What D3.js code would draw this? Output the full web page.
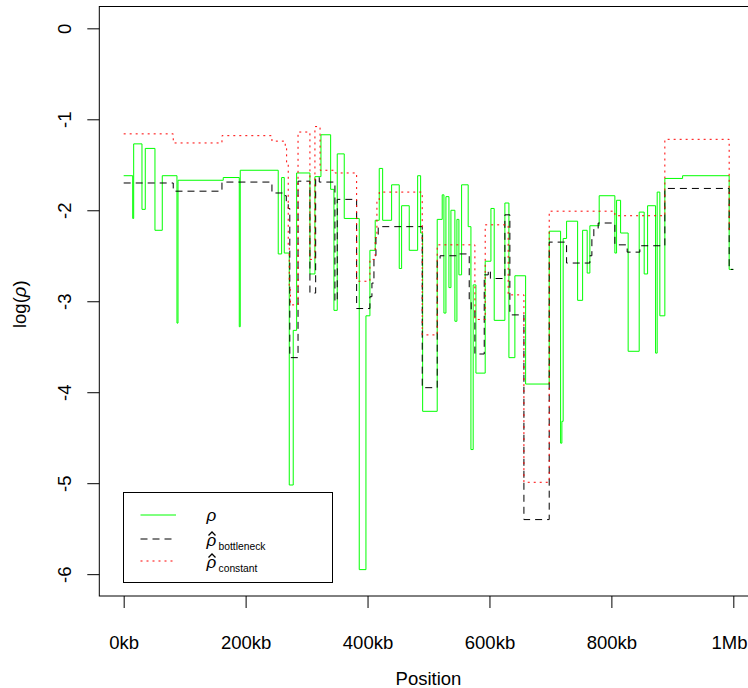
<!DOCTYPE html>
<html>
<head>
<meta charset="utf-8">
<script src="https://cdn.jsdelivr.net/npm/d3@7"></script>
<style>
body { margin: 0; background: #fff; }
text { font-family: "Liberation Sans", Arial, sans-serif; fill: #000; }
</style>
</head>
<body>
<svg id="chart" width="748" height="688"></svg>
<script>
// Step functions: position in kb, log(rho) value holds until the next position
const seqEnd = 1000;

const rhoPos = [0, 14.8, 16.4, 30.0, 35.4, 51.3, 63.3, 87.4, 89.1, 163.3, 189.6, 191.2,
  253.5, 259.1, 263.4, 271.6, 278.1, 283.7, 305.5, 313.7, 323.6, 339.5, 344.9, 350.3,
  361.8, 386.4, 397.4, 403.9, 412.6, 419.2, 424.8, 439.5, 452.0, 455.9, 468.4, 482.2,
  487.1, 490.4, 514.3, 522.5, 525.3, 528.6, 533.5, 536.8, 543.3, 546.6, 549.9, 554.3,
  565.1, 569.6, 573.3, 577.8, 593.0, 602.4, 607.8, 625.3, 631.9, 641.7, 659.3, 698.0,
  716.7, 718.8, 720.9, 726.5, 744.6, 752.8, 760.3, 764.7, 780.0, 805.7, 808.5, 815.1,
  827.5, 845.6, 853.8, 859.4, 872.5, 875.1, 879.5, 887.7, 916.8, 993.2];
const rhoVal = [-1.62, -2.09, -1.27, -1.99, -1.32, -2.22, -1.62, -3.24, -1.67, -1.64, -3.28, -1.56,
  -2.48, -1.64, -2.47, -5.02, -3.32, -1.59, -2.70, -1.63, -1.17, -1.77, -3.10, -1.38,
  -2.09, -5.95, -3.16, -2.44, -2.11, -1.54, -2.11, -1.72, -2.64, -1.95, -2.44, -1.62,
  -2.25, -4.21, -2.10, -1.83, -3.13, -1.85, -2.85, -2.00, -3.22, -2.10, -2.71, -1.72,
  -2.18, -4.63, -2.82, -3.79, -2.56, -1.98, -3.21, -1.92, -3.62, -2.72, -3.91, -2.23,
  -4.56, -4.32, -2.31, -2.12, -2.99, -2.22, -2.69, -2.17, -1.84, -2.47, -1.89, -2.25,
  -3.55, -2.02, -2.70, -1.95, -3.57, -1.80, -3.16, -1.65, -1.62, -2.65];

const bottleneckPos = [0, 81.3, 161.2, 243.2, 263.4, 266.7, 269.9, 272.5, 286.0, 305.5, 314.9, 320.8,
  346.5, 350.3, 382.1, 403.9, 407.2, 410.5, 413.8, 417.5, 489.7, 514.3, 519.0, 546.1,
  566.8, 570.0, 576.1, 591.4, 598.0, 601.5, 625.3, 633.5, 656.5, 698.0, 726.5, 764.7,
  768.0, 771.2, 778.3, 805.7, 825.9, 846.7, 887.7, 993.2];
const bottleneckVal = [-1.70, -1.79, -1.69, -1.81, -1.84, -1.90, -1.98, -3.62, -1.68, -2.91, -1.64, -1.69,
  -3.00, -1.88, -3.08, -2.95, -2.80, -2.50, -2.30, -2.18, -3.95, -2.55, -2.50, -2.48,
  -3.00, -3.10, -3.58, -2.71, -2.66, -2.75, -2.05, -3.15, -5.40, -2.35, -2.58, -2.50,
  -2.30, -2.20, -2.14, -2.38, -2.46, -2.39, -1.76, -2.65];

const constantPos = [0, 81.3, 161.2, 243.2, 265.0, 267.3, 269.9, 271.6, 273.5, 286.0, 305.5, 313.7,
  322.1, 346.5, 382.1, 403.9, 412.6, 415.4, 419.2, 489.7, 514.3, 576.1, 593.0, 630.7,
  656.5, 698.0, 805.7, 887.7, 993.2];
const constantVal = [-1.16, -1.26, -1.18, -1.24, -1.30, -1.50, -2.40, -2.87, -3.04, -1.14, -2.54, -1.08,
  -1.56, -1.59, -2.78, -2.54, -2.30, -1.90, -1.80, -3.37, -2.38, -3.20, -2.16, -2.93,
  -4.99, -2.01, -2.06, -1.22, -2.21];

const xTicks = [0, 200, 400, 600, 800, 1000];
const xTickLabels = ["0kb", "200kb", "400kb", "600kb", "800kb", "1Mb"];
const yTicks = [0, -1, -2, -3, -4, -5, -6];

const svg = d3.select("#chart");
const fs = 18.5;

// R-style 4% padding around xlim c(0,1Mb) and ylim c(-6,0)
const x = d3.scaleLinear().domain([-40, 1040]).range([99.3, 757.7]);
const y = d3.scaleLinear().domain([-6.24, 0.24]).range([596, 6.5]);

function steps(pos, val) {
  const pts = pos.map((p, i) => [p, val[i]]);
  pts.push([seqEnd, val[val.length - 1]]);
  return pts;
}

const line = d3.line()
  .x(d => x(d[0]))
  .y(d => y(d[1]))
  .curve(d3.curveStepAfter);

// series
svg.append("path")
  .attr("d", line(steps(rhoPos, rhoVal)))
  .attr("fill", "none")
  .attr("stroke", "#00ff00")
  .attr("stroke-width", 1);

svg.append("path")
  .attr("d", line(steps(bottleneckPos, bottleneckVal)))
  .attr("fill", "none")
  .attr("stroke", "#000")
  .attr("stroke-width", 1)
  .attr("stroke-dasharray", "7,5");

svg.append("path")
  .attr("d", line(steps(constantPos, constantVal)))
  .attr("fill", "none")
  .attr("stroke", "#ff0000")
  .attr("stroke-width", 1)
  .attr("stroke-dasharray", "2,4");

// box
svg.append("rect")
  .attr("x", x.range()[0]).attr("y", y.range()[1])
  .attr("width", x.range()[1] - x.range()[0])
  .attr("height", y.range()[0] - y.range()[1])
  .attr("fill", "none").attr("stroke", "#000").attr("stroke-width", 1);

// x axis
const xAxis = svg.append("g")
  .attr("transform", `translate(0,${y.range()[0]})`)
  .call(d3.axisBottom(x).tickValues(xTicks)
    .tickFormat((d, i) => xTickLabels[i])
    .tickSize(12).tickPadding(27.5));
xAxis.select(".domain").remove();
xAxis.selectAll("text").attr("font-size", fs).attr("font-family", null);
// last label sits right at the page edge, keep it inside
xAxis.selectAll("text").filter(d => d === 1000)
  .attr("text-anchor", "end").attr("x", 747 - x(1000));

// y axis, labels rotated like R's las=0
const yAxis = svg.append("g")
  .attr("transform", `translate(${x.range()[0]},0)`)
  .call(d3.axisLeft(y).tickValues(yTicks).tickSize(12).tickFormat(""));
yAxis.select(".domain").remove();
yAxis.selectAll(".tick").append("text")
  .attr("transform", "translate(-28,0) rotate(-90)")
  .attr("text-anchor", "middle")
  .attr("font-size", fs)
  .attr("fill", "#000")
  .text(d => d === 0 ? "0" : "-" + Math.abs(d));

// axis titles
svg.append("text")
  .attr("x", (x.range()[0] + x.range()[1]) / 2)
  .attr("y", 684.5)
  .attr("text-anchor", "middle")
  .attr("font-size", fs)
  .text("Position");

const yl = svg.append("text")
  .attr("transform", `translate(26,${(y.range()[0] + y.range()[1]) / 2 + 3}) rotate(-90)`)
  .attr("text-anchor", "middle")
  .attr("font-size", fs);
yl.append("tspan").text("log(");
yl.append("tspan").attr("font-style", "italic").text("ρ");
yl.append("tspan").text(")");

// legend
const legend = svg.append("g");
legend.append("rect")
  .attr("x", 123.5).attr("y", 492.5).attr("width", 209).attr("height", 90)
  .attr("fill", "#fff").attr("stroke", "#000").attr("stroke-width", 1);

const legendRows = [
  { color: "#00ff00", dash: null, ly: 515, base: 520.5, sub: null },
  { color: "#000", dash: "7,5", ly: 539, base: 546, sub: "bottleneck" },
  { color: "#ff0000", dash: "2,4", ly: 561, base: 568, sub: "constant" }
];
legendRows.forEach(r => {
  legend.append("line")
    .attr("x1", 140.5).attr("x2", 176).attr("y1", r.ly).attr("y2", r.ly)
    .attr("stroke", r.color).attr("stroke-width", 1)
    .attr("stroke-dasharray", r.dash);
  legend.append("text")
    .attr("x", 206.5).attr("y", r.base)
    .attr("font-size", 17).attr("font-style", "italic")
    .text("ρ");
  if (r.sub) {
    legend.append("path")
      .attr("d", `M208.5,${r.base - 10.5} L212,${r.base - 14} L215.5,${r.base - 10.5}`)
      .attr("fill", "none").attr("stroke", "#000").attr("stroke-width", 1.3);
    legend.append("text")
      .attr("x", 218.5).attr("y", r.base + 3.5)
      .attr("font-size", 10.3)
      .text(r.sub);
  }
});
</script>
</body>
</html>
